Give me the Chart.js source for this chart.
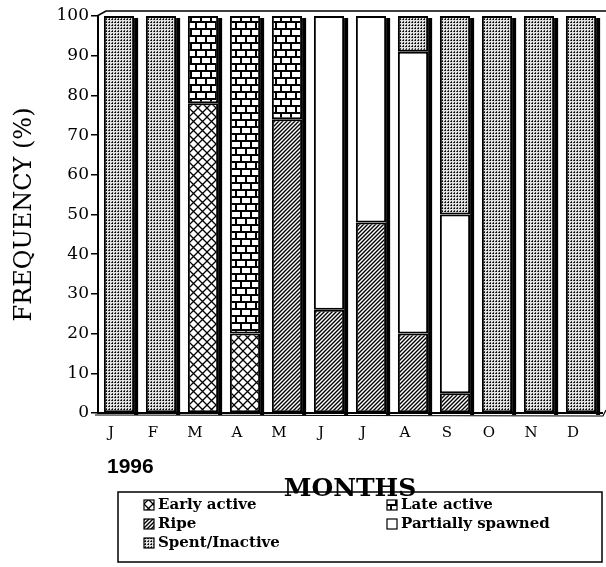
<!DOCTYPE html>
<html><head><meta charset="utf-8">
<script src="https://cdn.jsdelivr.net/npm/chart.js@4/dist/chart.umd.min.js"></script>
<style>html,body{margin:0;padding:0;background:#fff}canvas{display:block}</style>
</head><body>
<canvas id="c" width="606" height="567"></canvas>
<script>
// ---- data ----
const months = ['J','F','M','A','M','J','J','A','S','O','N','D'];
const earlyActive      = [0,0,78,20,0,0,0,0,0,0,0,0];
const ripe             = [0,0,0,0,74,26,48,20,5,0,0,0];
const lateActive       = [0,0,22,80,26,0,0,0,0,0,0,0];
const partiallySpawned = [0,0,0,0,0,74,52,71,45,0,0,0];
const spentInactive    = [100,100,0,0,0,0,0,9,50,100,100,100];
const yTicks = [0,10,20,30,40,50,60,70,80,90,100];
const yearLabel = '1996';

// ---- patterns ----
const pctx = document.createElement('canvas').getContext('2d');
function makePattern(w, h, draw) {
  const c = document.createElement('canvas'); c.width = w; c.height = h;
  const g = c.getContext('2d'); draw(g, w, h);
  return pctx.createPattern(c, 'repeat');
}
const patCross = makePattern(9, 9, (g, w, h) => {
  g.fillStyle = '#fff'; g.fillRect(0, 0, w, h);
  g.strokeStyle = '#000'; g.lineWidth = 1.3;
  g.beginPath();
  g.moveTo(-1, -1); g.lineTo(w + 1, h + 1);
  g.moveTo(-1, h + 1); g.lineTo(w + 1, -1);
  g.stroke();
});
const patBrick = makePattern(10, 14, (g, w, h) => {
  g.fillStyle = '#fff'; g.fillRect(0, 0, w, h);
  g.fillStyle = '#000';
  g.fillRect(0, 0, w, 2); g.fillRect(0, 7, w, 2);
  g.fillRect(0, 2, 2, 5); g.fillRect(5, 9, 2, 5);
});
const patRipe = makePattern(4, 4, (g, w, h) => {
  g.fillStyle = '#fff'; g.fillRect(0, 0, w, h);
  g.strokeStyle = '#000'; g.lineWidth = 1.4;
  g.beginPath();
  g.moveTo(-1, h + 1); g.lineTo(w + 1, -1);
  g.moveTo(-1, 1); g.lineTo(1, -1);
  g.moveTo(w - 1, h + 1); g.lineTo(w + 1, h - 1);
  g.stroke();
});
const patSpent = makePattern(3, 3, (g, w, h) => {
  g.fillStyle = '#e0e0e0'; g.fillRect(0, 0, w, h);
  g.fillStyle = '#444'; g.fillRect(1, 0, 1, 1); g.fillRect(0, 1, 1, 1);
  g.fillStyle = '#000'; g.fillRect(1, 1, 1, 1);
});

const common = { borderColor: '#000', borderWidth: 2, borderSkipped: false,
  categoryPercentage: 1, barPercentage: 0.72 };
const nz = a => a.map(v => v > 0 ? v : null);

const datasets = [
  { label: 'Early active', data: nz(earlyActive), backgroundColor: patCross, ...common },
  { label: 'Ripe', data: nz(ripe), backgroundColor: patRipe, ...common },
  { label: 'Late active', data: nz(lateActive), backgroundColor: patBrick, ...common },
  { label: 'Partially spawned', data: nz(partiallySpawned), backgroundColor: '#fff', ...common },
  { label: 'Spent/Inactive', data: nz(spentInactive), backgroundColor: patSpent, ...common },
];

const serif = 'DejaVu Serif';

const deco = {
  id: 'deco',
  afterDatasetsDraw(chart) {
    const { ctx, chartArea: a } = chart;
    const y0 = chart.scales.y.getPixelForValue(0);
    ctx.save();
    ctx.fillStyle = '#000';
    for (let i = 0; i < months.length; i++) {
      let top = Infinity, right = null;
      chart.data.datasets.forEach((ds, d) => {
        const v = ds.data[i];
        if (v == null) return;
        const el = chart.getDatasetMeta(d).data[i];
        top = Math.min(top, el.y);
        right = el.x + el.width / 2;
      });
      if (right !== null) ctx.fillRect(right, top + 2, 4, y0 - top);
    }
    // floor
    ctx.strokeStyle = '#000';
    ctx.lineWidth = 2;
    ctx.beginPath();
    ctx.moveTo(a.left - 1, a.bottom); ctx.lineTo(a.right + 1, a.bottom);
    ctx.stroke();
    ctx.lineWidth = 1.2;
    ctx.beginPath();
    ctx.moveTo(a.left - 3, a.bottom + 2); ctx.lineTo(a.right + 1, a.bottom + 3);
    ctx.lineTo(a.right + 4, a.bottom - 3);
    ctx.stroke();
    // back wall top edge
    ctx.lineWidth = 1.5;
    ctx.beginPath();
    ctx.moveTo(a.left - 1, a.top); ctx.lineTo(a.left + 8, a.top - 5); ctx.lineTo(606, a.top - 5);
    ctx.stroke();
    ctx.restore();
  },
  afterDraw(chart) {
    const { ctx } = chart;
    ctx.save();
    ctx.fillStyle = '#000';
    // year
    ctx.font = 'bold 21px "Liberation Sans"';
    ctx.textAlign = 'left'; ctx.textBaseline = 'alphabetic';
    ctx.fillText(yearLabel, 107, 473);
    // legend box
    ctx.strokeStyle = '#000';
    ctx.lineWidth = 1.5;
    ctx.strokeRect(118, 492, 484, 70);
    const items = [
      [0, 144, 505], [2, 387, 505], [1, 144, 524], [3, 387, 524], [4, 144, 543]
    ];
    ctx.font = 'bold 15px "' + serif + '"';
    ctx.textBaseline = 'middle';
    items.forEach(([d, x, y]) => {
      const ds = chart.data.datasets[d];
      ctx.fillStyle = ds.backgroundColor;
      ctx.fillRect(x, y - 5, 10, 10);
      ctx.lineWidth = 1.2; ctx.strokeStyle = '#000';
      ctx.strokeRect(x, y - 5, 10, 10);
      ctx.fillStyle = '#000';
      ctx.fillText(ds.label, x + 14, y);
    });
    ctx.restore();
  }
};

new Chart(document.getElementById('c'), {
  type: 'bar',
  data: { labels: months, datasets },
  options: {
    responsive: false, animation: false,
    layout: { padding: { top: 16, right: 4, left: 0, bottom: 0 } },
    plugins: { legend: { display: false }, tooltip: { enabled: false } },
    scales: {
      x: {
        stacked: true,
        grid: { display: false, drawTicks: false },
        border: { display: false },
        ticks: { font: { family: serif, size: 15 }, color: '#000', padding: 11, labelOffset: -8, maxRotation: 0, autoSkip: false },
        title: { display: true, text: 'MONTHS', color: '#000', font: { family: serif, size: 25, weight: 'bold' }, padding: { top: 0, bottom: 63 } },
        afterFit(s) { s.height = 154; }
      },
      y: {
        stacked: true, min: 0, max: 100,
        afterBuildTicks(s) { s.ticks = yTicks.map(v => ({ value: v })); },
        ticks: { font: { family: serif, size: 17 }, color: '#000', padding: 2 },
        grid: { drawOnChartArea: false, tickLength: 7, color: '#000', lineWidth: 1.5 },
        border: { display: true, color: '#000', width: 2 },
        title: { display: true, text: 'FREQUENCY (%)', color: '#000', font: { family: serif, size: 24 }, padding: { top: 10, bottom: 0 } },
        afterFit(s) { s.width = 98; }
      }
    }
  },
  plugins: [deco]
});
</script>
</body></html>
